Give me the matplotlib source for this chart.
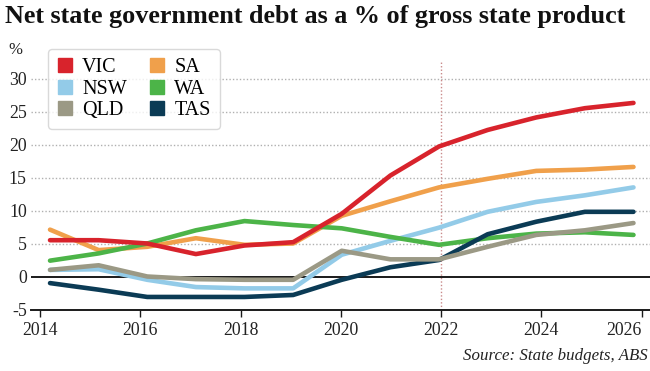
import matplotlib
matplotlib.use("Agg")
import matplotlib.pyplot as plt
from matplotlib.lines import Line2D
import numpy as np

# Fiscal-year positions (13 budget years, 2013-14 .. 2025-26)
years = [2014.2, 2015.17, 2016.14, 2017.11, 2018.08, 2019.05, 2020.02,
         2020.99, 2021.96, 2022.93, 2023.9, 2024.87, 2025.84]

VIC = [5.5, 5.5, 5.0, 3.4, 4.7, 5.2, 9.5, 15.3, 19.7, 22.2, 24.1, 25.5, 26.3]
SA = [7.1, 4.0, 4.5, 5.8, 4.8, 5.0, 9.2, 11.4, 13.5, 14.8, 16.0, 16.2, 16.6]
NSW = [1.0, 1.1, -0.5, -1.6, -1.8, -1.8, 3.3, 5.4, 7.4, 9.8, 11.3, 12.3, 13.5]
WA = [2.4, 3.5, 5.0, 7.0, 8.4, 7.8, 7.3, 6.0, 4.8, 5.8, 6.5, 6.7, 6.3]
QLD = [1.0, 1.7, 0.0, -0.4, -0.5, -0.5, 3.9, 2.6, 2.6, 4.5, 6.3, 7.0, 8.1]
TAS = [-1.0, -2.0, -3.1, -3.1, -3.1, -2.8, -0.5, 1.4, 2.5, 6.4, 8.3, 9.8, 9.8]

series = {"VIC": VIC, "SA": SA, "NSW": NSW, "WA": WA, "QLD": QLD, "TAS": TAS}
colors = {"VIC": "#d8232c", "SA": "#f0a04b", "NSW": "#93cbe8",
          "WA": "#4cb448", "QLD": "#9b9985", "TAS": "#0b3b55"}
draw_order = ["NSW", "SA", "WA", "TAS", "QLD", "VIC"]
legend_order = ["VIC", "NSW", "QLD", "SA", "WA", "TAS"]

xticks = [2014, 2016, 2018, 2020, 2022, 2024, 2026]
yticks = [-5, 0, 5, 10, 15, 20, 25, 30]

serif = ["Liberation Serif", "DejaVu Serif"]
plt.rcParams["font.family"] = serif

W, H = 650, 371
fig = plt.figure(figsize=(W / 100, H / 100), dpi=100)
ax = fig.add_axes([31 / W, (H - 309.5) / H, (W - 31) / W, (309.5 - 60) / H])

px_per_year = (641.5 - 40) / 12
ax.set_xlim(2014 - 9 / px_per_year, 2014 + (W - 31 - 9) / px_per_year)
ax.set_ylim(-5, -5 + (309.5 - 60) / 6.6)

for v in [5, 10, 15, 20, 25, 30]:
    ax.axhline(v, color="#b0b0b0", lw=1.0, ls=(0, (1, 1.5)), zorder=1)
ax.axhline(0, color="#1a1a1a", lw=1.4, zorder=2)
ax.axvline(2022, color="#c98a8a", lw=1.0, ls=(0, (1, 1.5)), zorder=1.5)

for name in draw_order:
    ax.plot(years, series[name], color=colors[name], lw=3.3,
            solid_capstyle="round", solid_joinstyle="round", zorder=3)

for s in ["top", "right", "left"]:
    ax.spines[s].set_visible(False)
ax.spines["bottom"].set_color("#1a1a1a")
ax.spines["bottom"].set_linewidth(1.4)

ax.set_xticks(xticks)
ax.set_xticklabels([str(t) for t in xticks])
ax.set_yticks(yticks)
ax.set_yticklabels([str(t) for t in yticks])
ax.tick_params(axis="x", length=5, width=1.0, color="#1a1a1a", labelsize=12.8,
               pad=4, labelcolor="#222222")
ax.tick_params(axis="y", length=0, labelsize=12.8, pad=3, labelcolor="#222222")
last = ax.get_xticklabels()[-1]
last.set_horizontalalignment("right")

fig.text(8 / W, 1 - 50 / H, "%", fontsize=12, color="#222222", va="center", ha="left")

fig.text(5 / W, 1 - 17 / H, "Net state government debt as a % of gross state product",
         fontsize=18.8, fontweight="bold", color="#111111", va="center", ha="left")

fig.text(648 / W, 1 - 356 / H, "Source: State budgets, ABS", fontsize=12.2,
         style="italic", color="#222222", va="center", ha="right")

handles = [Line2D([], [], marker="s", ls="", markersize=9.5, color=colors[n]) for n in legend_order]
leg = ax.legend(handles, legend_order, ncol=2, loc="upper left",
                bbox_to_anchor=(48 / W, 1 - 49 / H), bbox_transform=fig.transFigure,
                borderaxespad=0, frameon=True, fancybox=True, fontsize=14.5,
                handlelength=0.8, handletextpad=0.45, columnspacing=1.1,
                labelspacing=0.12, borderpad=0.45)
leg.get_frame().set_edgecolor("#d0d0d0")
leg.get_frame().set_linewidth(1.0)
leg.set_zorder(5)

fig.savefig("out.png", dpi=100)
